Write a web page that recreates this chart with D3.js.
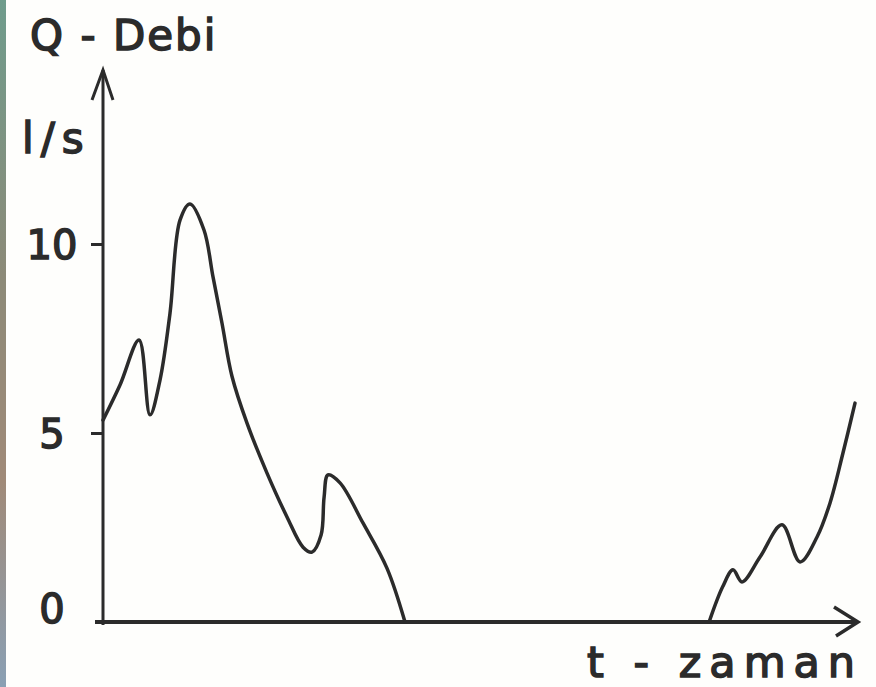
<!DOCTYPE html>
<html>
<head>
<meta charset="utf-8">
<script src="https://cdn.jsdelivr.net/npm/d3@7"></script>
<style>
  html, body { margin: 0; padding: 0; background: #fefefc; }
  svg { display: block; }
  text { font-family: "DejaVu Sans", sans-serif; fill: #2b2b2b; stroke: #2b2b2b; stroke-width: 1.5px; }
</style>
</head>
<body>
<svg id="chart" width="876" height="687"></svg>
<script>
// ---- data (time axis in arbitrary units 0..100) ----
const timeValues = [0, 2.26, 4.79, 6.25, 7.58, 8.91, 10.24, 11.57, 13.43, 14.63, 15.82, 17.15, 19.15, 21.81, 24.47, 26.6, 27.79, 29.0, 29.4, 29.92, 31.52, 34.57, 37.77, 40.16, 50, 60, 70, 80.6, 82.4, 83.78, 84.97, 87.37, 90.29, 92.69, 94.95, 96.68, 98.4, 100];
const flowValues = [5.34, 6.27, 7.46, 5.48, 6.4, 8.17, 10.63, 11.06, 10.37, 9.13, 7.91, 6.5, 5.26, 3.94, 2.78, 1.98, 1.85, 2.3, 3.3, 3.89, 3.68, 2.62, 1.42, 0, 0, 0, 0, 0, 0.93, 1.38, 1.06, 1.72, 2.57, 1.59, 2.25, 3.15, 4.47, 5.79];
const yTickValues = [0, 5, 10];
const yTickLabels = ["0", "5", "10"];
const yTitle = "Q - Debi";
const yUnit = "l/s";
const xTitle = "t - zaman";

const svg = d3.select("#chart");
const ink = "#2b2b2b";

// scan edge strip
const grad = svg.append("defs").append("linearGradient")
  .attr("id", "edge").attr("x1", 0).attr("y1", 0).attr("x2", 0).attr("y2", 1);
[["0%", "#6f9c8c"], ["40%", "#8c8a78"], ["70%", "#a08a78"], ["100%", "#8aa0b4"]]
  .forEach(([o, c]) => grad.append("stop").attr("offset", o).attr("stop-color", c));
svg.append("rect").attr("x", 0).attr("y", 0).attr("width", 6).attr("height", 687).attr("fill", "url(#edge)");

const x = d3.scaleLinear().domain([0, 100]).range([103, 855]);
const y = d3.scaleLinear().domain([0, 10]).range([622, 244]);

// y axis with ticks
const yAxis = d3.axisLeft(y).tickValues(yTickValues).tickSize(12)
  .tickFormat((d, i) => yTickLabels[i]);
const gy = svg.append("g").attr("transform", `translate(${x(0)},0)`).call(yAxis);
gy.select(".domain").remove();
gy.selectAll(".tick line").attr("stroke", ink).attr("stroke-width", 3)
  .attr("display", d => d === 0 ? "none" : null);
gy.selectAll(".tick text")
  .attr("x", -51).attr("text-anchor", "middle")
  .attr("dy", d => d === 0 ? "0em" : "0.36em")
  .style("font-size", "40px").style("fill", ink);

// axis lines with open arrows
const axisTop = 70, axisRight = 858;
svg.append("line").attr("x1", x(0)).attr("y1", y(0) + 3).attr("x2", x(0)).attr("y2", axisTop)
  .attr("stroke", ink).attr("stroke-width", 3);
svg.append("path")
  .attr("d", `M${x(0) - 11},${axisTop + 30} L${x(0)},${axisTop} L${x(0) + 10},${axisTop + 30}`)
  .attr("fill", "none").attr("stroke", ink).attr("stroke-width", 3);
svg.append("line").attr("x1", x(0) - 8).attr("y1", y(0)).attr("x2", axisRight).attr("y2", y(0))
  .attr("stroke", ink).attr("stroke-width", 4);
svg.append("path")
  .attr("d", `M${axisRight - 24},${y(0) - 15} L${axisRight},${y(0)} L${axisRight - 22},${y(0) + 14}`)
  .attr("fill", "none").attr("stroke", ink).attr("stroke-width", 3.5);

// curve (the flat zero stretch lies on the time axis; it splits the curve in two pieces)
const data = timeValues.map((t, i) => ({ t, q: flowValues[i] }));
const onAxisInterior = (i) => flowValues[i] === 0 && flowValues[i - 1] === 0 && flowValues[i + 1] === 0;
const line = d3.line()
  .defined((d, i) => !onAxisInterior(i))
  .x(d => x(d.t)).y(d => y(d.q))
  .curve(d3.curveCatmullRom.alpha(0.5));
svg.append("path").datum(data).attr("d", line)
  .attr("fill", "none").attr("stroke", ink).attr("stroke-width", 3.5)
  .attr("stroke-linejoin", "round").attr("stroke-linecap", "round");

// titles
svg.append("text").attr("x", 30).attr("y", 50).text(yTitle)
  .style("font-size", "42px").style("letter-spacing", "2px");
svg.append("text").attr("x", 22).attr("y", 153).text(yUnit)
  .style("font-size", "42px").style("letter-spacing", "7px");
svg.append("text").attr("x", 587).attr("y", 677).text(xTitle)
  .style("font-size", "43px").style("letter-spacing", "8px");
</script>
</body>
</html>
